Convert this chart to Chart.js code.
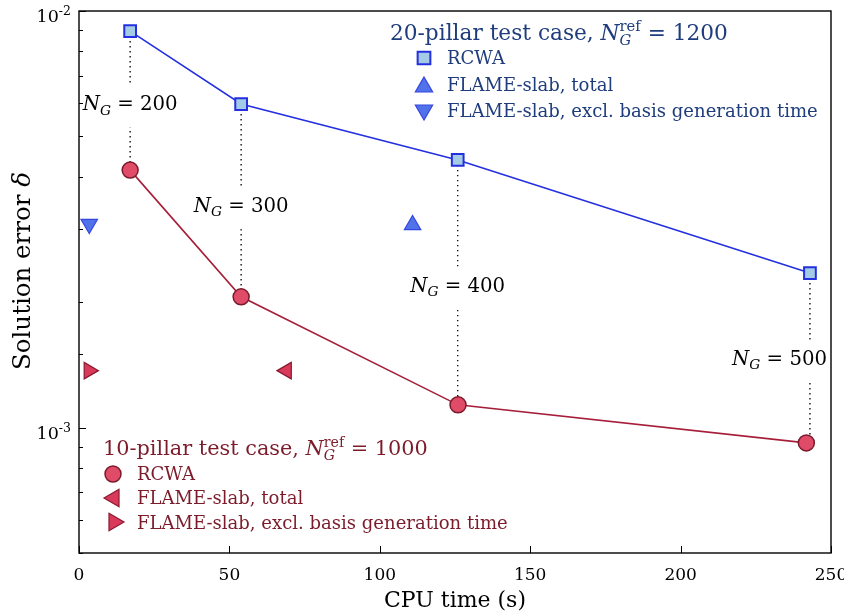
<!DOCTYPE html>
<html><head><meta charset="utf-8">
<script src="https://cdn.jsdelivr.net/npm/chart.js@4/dist/chart.umd.min.js"></script>
<style>html,body{margin:0;padding:0;background:#fff}#wrap{width:844px;height:615px}</style>
</head><body><div id="wrap"><canvas id="c" width="844" height="615"></canvas></div>
<script>
// ---- data ----
const ngLabels = ['200', '300', '400', '500'];
const blueTime = [17.0, 53.9, 125.9, 243.0];
const blueErr = [8.95e-3, 5.98e-3, 4.39e-3, 2.35e-3];
const redTime = [17.0, 53.9, 126.0, 241.8];
const redErr = [4.15e-3, 2.06e-3, 1.134e-3, 9.19e-4];
const blueFlameTotal = [{x: 110.9, y: 3.065e-3}];
const blueFlameExcl = [{x: 3.4, y: 3.08e-3}];
const redFlameTotal = [{x: 69.0, y: 1.37e-3}];
const redFlameExcl = [{x: 3.3, y: 1.37e-3}];
const xTicks = [0, 50, 100, 150, 200, 250];
const yDecades = [1e-2, 1e-3];
const yDecadeExp = ['-2', '-3'];
// label anchor (data y) for the N_G annotations
const ngLabelY = [6.0e-3, 3.42e-3, 2.2e-3, 1.47e-3];

const SERIF = '"DejaVu Serif", "Liberation Serif", serif';
const BLUE_LINE = '#2430e0', BLUE_SQ_FILL = '#a3cbe5', BLUE_TRI_FILL = '#5272ea', BLUE_TRI_EDGE = '#3446e0';
const RED_LINE = '#a61e3a', RED_CIRC_FILL = '#e04b68', RED_CIRC_EDGE = '#7a1a2c', RED_TRI_FILL = '#d93a5a', RED_TRI_EDGE = '#8a1830';
const BLUE_TEXT = '#1f3d7c', RED_TEXT = '#7c1c2b';

const pts = (xs, ys) => xs.map((x, i) => ({x, y: ys[i]}));

const datasets = [];
ngLabels.forEach((n, i) => {
  datasets.push({
    data: [{x: blueTime[i], y: blueErr[i]}, {x: blueTime[i], y: redErr[i]}],
    borderColor: '#000', borderWidth: 1.3, borderDash: [1.4, 3.6], pointRadius: 0,
    showLine: true, order: 10
  });
});
datasets.push({data: pts(blueTime, blueErr), borderColor: BLUE_LINE, borderWidth: 1.6, showLine: true,
  pointStyle: 'rect', pointRadius: 8.3, pointBackgroundColor: BLUE_SQ_FILL, pointBorderColor: BLUE_LINE, pointBorderWidth: 2, order: 1});
datasets.push({data: pts(redTime, redErr), borderColor: RED_LINE, borderWidth: 1.6, showLine: true,
  pointStyle: 'circle', pointRadius: 8, pointBackgroundColor: RED_CIRC_FILL, pointBorderColor: RED_CIRC_EDGE, pointBorderWidth: 1.5, order: 1});
datasets.push({data: blueFlameTotal, showLine: false, pointStyle: 'triangle', pointRadius: 9.5, pointRotation: 0,
  pointBackgroundColor: BLUE_TRI_FILL, pointBorderColor: BLUE_TRI_EDGE, pointBorderWidth: 1.2, order: 1});
datasets.push({data: blueFlameExcl, showLine: false, pointStyle: 'triangle', pointRadius: 9.5, pointRotation: 180,
  pointBackgroundColor: BLUE_TRI_FILL, pointBorderColor: BLUE_TRI_EDGE, pointBorderWidth: 1.2, order: 1});
datasets.push({data: redFlameTotal, showLine: false, pointStyle: 'triangle', pointRadius: 9.5, pointRotation: 270,
  pointBackgroundColor: RED_TRI_FILL, pointBorderColor: RED_TRI_EDGE, pointBorderWidth: 1.2, order: 1});
datasets.push({data: redFlameExcl, showLine: false, pointStyle: 'triangle', pointRadius: 9.5, pointRotation: 90,
  pointBackgroundColor: RED_TRI_FILL, pointBorderColor: RED_TRI_EDGE, pointBorderWidth: 1.2, order: 1});

// ---- helpers ----
function font(size, italic) { return (italic ? 'italic ' : '') + size.toFixed(2) + 'px ' + SERIF; }
function runsWidth(ctx, runs, base) {
  let w = 0;
  runs.forEach(r => {
    if (r.stack) {
      let m = 0;
      r.stack.forEach(s => { ctx.font = font(s.r * base, s.it); m = Math.max(m, ctx.measureText(s.t).width); });
      w += m;
    } else { ctx.font = font(r.r * base, r.it); w += ctx.measureText(r.t).width; }
  });
  return w;
}
function fitBase(ctx, runs, target) { return 20 * target / runsWidth(ctx, runs, 20); }
function drawRuns(ctx, runs, base, x, y, align, color) {
  const w = runsWidth(ctx, runs, base);
  let cx = align === 'center' ? x - w / 2 : (align === 'right' ? x - w : x);
  ctx.fillStyle = color; ctx.textBaseline = 'alphabetic'; ctx.textAlign = 'left';
  runs.forEach(r => {
    if (r.stack) {
      let mw = 0;
      r.stack.forEach(s => { ctx.font = font(s.r * base, s.it); ctx.fillText(s.t, cx, y + s.dy * base); mw = Math.max(mw, ctx.measureText(s.t).width); });
      cx += mw;
    } else {
      ctx.font = font(r.r * base, r.it); ctx.fillText(r.t, cx, y + (r.dy || 0) * base); cx += ctx.measureText(r.t).width;
    }
  });
  return w;
}
function marker(ctx, style, x, y, r, rot, fill, edge, bw) {
  ctx.save(); ctx.fillStyle = fill; ctx.strokeStyle = edge; ctx.lineWidth = bw; ctx.beginPath();
  if (style === 'circle') { ctx.arc(x, y, r, 0, Math.PI * 2); }
  else if (style === 'rect') { const s = r * Math.SQRT1_2; ctx.rect(x - s, y - s, 2 * s, 2 * s); }
  else { let a = rot * Math.PI / 180; ctx.moveTo(x + Math.sin(a) * r, y - Math.cos(a) * r);
    for (let k = 0; k < 2; k++) { a += 2 * Math.PI / 3; ctx.lineTo(x + Math.sin(a) * r, y - Math.cos(a) * r); } ctx.closePath(); }
  ctx.fill(); ctx.stroke(); ctx.restore();
}
const titleRuns = (pre, val) => [{t: pre, r: 1}, {t: 'N', r: 1, it: true},
  {stack: [{t: 'ref', r: 0.68, dy: -0.4}, {t: 'G', r: 0.68, it: true, dy: 0.25}]}, {t: ' = ' + val, r: 1}];
const ngRuns = n => [{t: 'N', r: 1, it: true}, {t: 'G', r: 0.7, it: true, dy: 0.22}, {t: ' = ' + n, r: 1}];

const decor = {
  id: 'decor',
  beforeDatasetsDraw(chart) {
    const {ctx, chartArea: a} = chart;
    ctx.save(); ctx.fillStyle = '#fff'; ctx.fillRect(a.left, a.top, a.right - a.left, a.bottom - a.top); ctx.restore();
  },
  afterDatasetsDraw(chart) {
    const {ctx, chartArea: a, scales: {x, y}} = chart;
    ctx.save();
    const ngBase = fitBase(ctx, ngRuns('200'), 95);
    ngLabels.forEach((n, i) => {
      const px = x.getPixelForValue(blueTime[i]);
      const py = y.getPixelForValue(ngLabelY[i]);
      ctx.fillStyle = '#fff';
      ctx.fillRect(px - 3, py - 18, 6, 42);
      const runs = ngRuns(n);
      let cx = px;
      const w = runsWidth(ctx, runs, ngBase);
      if (cx + w / 2 > a.right - 4) cx = a.right - 4 - w / 2;
      drawRuns(ctx, runs, ngBase, cx, py + 7, 'center', '#000');
    });
    // frame
    ctx.strokeStyle = '#000'; ctx.lineWidth = 1.4;
    ctx.strokeRect(a.left, a.top, a.right - a.left, a.bottom - a.top);
    // inward ticks
    ctx.lineWidth = 1;
    xTicks.forEach(v => { const px = Math.round(x.getPixelForValue(v)) + 0.5; ctx.beginPath(); ctx.moveTo(px, a.bottom); ctx.lineTo(px, a.bottom - 7); ctx.stroke(); });
    y.ticks.forEach(t => {
      const py = Math.round(y.getPixelForValue(t.value)) + 0.5;
      const major = yDecades.some(d => Math.abs(Math.log10(d) - Math.log10(t.value)) < 1e-6);
      ctx.beginPath(); ctx.moveTo(a.left, py); ctx.lineTo(a.left + (major ? 7 : 4), py); ctx.stroke();
    });
    // y decade labels
    yDecades.forEach((d, i) => {
      const py = y.getPixelForValue(d);
      ctx.fillStyle = '#000'; ctx.textAlign = 'right'; ctx.textBaseline = 'alphabetic';
      ctx.font = font(12.5); const ew = ctx.measureText(yDecadeExp[i]).width;
      ctx.fillText(yDecadeExp[i], a.left - 8, py + 4);
      ctx.font = font(17.5); ctx.fillText('10', a.left - 8 - ew, py + 11);
    });
    // y axis title
    const yt = [{t: 'Solution error ', r: 1}, {t: 'δ', r: 1, it: true}];
    const ytBase = fitBase(ctx, yt, 198);
    ctx.save(); ctx.translate(30, 271); ctx.rotate(-Math.PI / 2);
    drawRuns(ctx, yt, ytBase, 0, 0, 'center', '#000');
    ctx.restore();
    // legend: 20-pillar
    const bt = titleRuns('20-pillar test case, ', '1200');
    drawRuns(ctx, bt, fitBase(ctx, bt, 338), 390, 40, 'left', BLUE_TEXT);
    const longEntry = [{t: 'FLAME-slab, excl. basis generation time', r: 1}];
    const LEG = fitBase(ctx, longEntry, 371);
    marker(ctx, 'rect', 424, 58, 9, 0, BLUE_SQ_FILL, BLUE_LINE, 2);
    marker(ctx, 'tri', 424, 87, 10, 0, BLUE_TRI_FILL, BLUE_TRI_EDGE, 1.2);
    marker(ctx, 'tri', 424, 110, 10, 180, BLUE_TRI_FILL, BLUE_TRI_EDGE, 1.2);
    drawRuns(ctx, [{t: 'RCWA', r: 1}], LEG, 447, 64, 'left', BLUE_TEXT);
    drawRuns(ctx, [{t: 'FLAME-slab, total', r: 1}], LEG, 447, 91, 'left', BLUE_TEXT);
    drawRuns(ctx, longEntry, LEG, 447, 117, 'left', BLUE_TEXT);
    // legend: 10-pillar
    const rt = titleRuns('10-pillar test case, ', '1000');
    drawRuns(ctx, rt, fitBase(ctx, rt, 325), 103, 455, 'left', RED_TEXT);
    marker(ctx, 'circle', 113, 474, 8, 0, RED_CIRC_FILL, RED_CIRC_EDGE, 1.5);
    marker(ctx, 'tri', 114, 498, 10, 270, RED_TRI_FILL, RED_TRI_EDGE, 1.2);
    marker(ctx, 'tri', 114, 522, 10, 90, RED_TRI_FILL, RED_TRI_EDGE, 1.2);
    drawRuns(ctx, [{t: 'RCWA', r: 1}], LEG, 137, 480, 'left', RED_TEXT);
    drawRuns(ctx, [{t: 'FLAME-slab, total', r: 1}], LEG, 137, 504, 'left', RED_TEXT);
    drawRuns(ctx, longEntry, LEG, 137, 529, 'left', RED_TEXT);
    ctx.restore();
  }
};

new Chart(document.getElementById('c'), {
  type: 'scatter',
  data: {datasets},
  options: {
    animation: false, responsive: false, devicePixelRatio: 1,
    layout: {padding: {top: 11, right: 13, left: 0, bottom: 0}},
    plugins: {legend: {display: false}, tooltip: {enabled: false}},
    elements: {line: {tension: 0}},
    scales: {
      x: {type: 'linear', min: 0, max: 250, afterBuildTicks(s) { s.ticks = xTicks.map(v => ({value: v})); },
        ticks: {font: {family: SERIF, size: 17}, color: '#000', padding: 12, maxRotation: 0},
        grid: {display: false, drawTicks: false}, border: {display: false},
        title: {display: true, text: 'CPU time (s)', font: {family: SERIF, size: 22}, color: '#000', padding: {top: 0, bottom: 1}},
        afterFit(s) { s.height = 62; s.paddingLeft = 0; s.paddingRight = 0; }},
      y: {type: 'logarithmic', min: 5e-4, max: 1e-2,
        ticks: {display: false}, grid: {display: false, drawTicks: false}, border: {display: false},
        afterFit(s) { s.width = 79; s.paddingTop = 0; s.paddingBottom = 0; }}
    }
  },
  plugins: [decor]
});
</script></body></html>
